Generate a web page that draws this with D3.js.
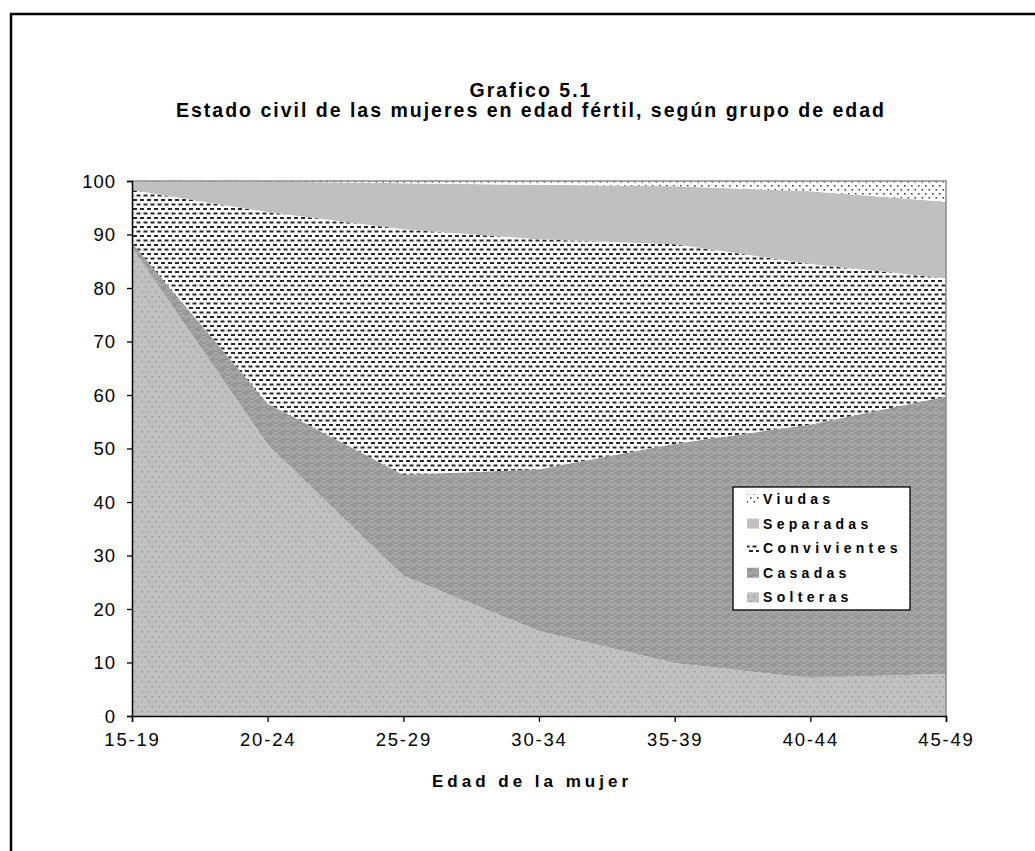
<!DOCTYPE html>
<html><head><meta charset="utf-8">
<script src="https://cdn.jsdelivr.net/npm/d3@7"></script>
<style>
html,body{margin:0;padding:0;background:#fff;}
svg{display:block;font-family:"Liberation Sans",Arial,sans-serif;}
</style></head>
<body><svg id="c" width="1035" height="851"></svg>
<script>
const categories = ["15-19","20-24","25-29","30-34","35-39","40-44","45-49"];
const seriesNames = ["Solteras","Casadas","Convivientes","Separadas","Viudas"];
const solteras     = [87.6, 50.7, 26.2, 15.9,  9.9,  7.1,  7.9];
const casadas      = [ 0.8,  7.7, 18.9, 30.2, 41.0, 47.4, 51.8];
const convivientes = [ 9.9, 35.8, 45.9, 43.0, 37.3, 30.0, 22.1];
const separadas    = [ 1.6,  5.7,  8.6, 10.2, 10.8, 13.6, 14.3];
const viudas       = [ 0.1,  0.1,  0.4,  0.7,  1.0,  1.9,  3.9];
const yTicks = [0,10,20,30,40,50,60,70,80,90,100];
const titleLines = ["Grafico 5.1","Estado civil de las mujeres en edad fértil, según grupo de edad"];
const xTitle = "Edad de la mujer";

const svg = d3.select("#c");
const pLeft = 132, pRight = 946, pTop = 181, pBottom = 716;

// outer frame
svg.append("rect").attr("x",11).attr("y",14).attr("width",1100).attr("height",1000)
  .attr("fill","#fff").attr("stroke","#000").attr("stroke-width",2.5);

// patterns
const defs = svg.append("defs");
let p = defs.append("pattern").attr("id","pSol").attr("patternUnits","userSpaceOnUse").attr("width",7).attr("height",10);
p.append("rect").attr("width",7).attr("height",10).attr("fill","#c0c0c0");
p.append("rect").attr("x",1).attr("y",1).attr("width",1.5).attr("height",1.5).attr("fill","#9a9a9a");
p.append("rect").attr("x",4.5).attr("y",6).attr("width",1.5).attr("height",1.5).attr("fill","#9a9a9a");
p = defs.append("pattern").attr("id","pCas").attr("patternUnits","userSpaceOnUse").attr("width",12).attr("height",8);
p.append("rect").attr("width",12).attr("height",8).attr("fill","#979797");
p.append("path").attr("d","M0,6 L3,3 L6,6 L9,3 L12,6 M0,2 L3,-1 M9,-1 L12,2 M3,7 L6,10").attr("fill","none").attr("stroke","#aeaeae").attr("stroke-width",1.3);
p = defs.append("pattern").attr("id","pCon").attr("patternUnits","userSpaceOnUse").attr("width",7).attr("height",9);
p.append("rect").attr("width",7).attr("height",9).attr("fill","#fff");
p.append("rect").attr("x",0).attr("y",1).attr("width",4).attr("height",2).attr("fill","#262626");
p.append("rect").attr("x",3.5).attr("y",5.5).attr("width",4).attr("height",2).attr("fill","#262626");
p.append("rect").attr("x",-3.5).attr("y",5.5).attr("width",4).attr("height",2).attr("fill","#262626");
p = defs.append("pattern").attr("id","pSep").attr("patternUnits","userSpaceOnUse").attr("width",4).attr("height",4);
p.append("rect").attr("width",4).attr("height",4).attr("fill","#c0c0c0");
p = defs.append("pattern").attr("id","pViu").attr("patternUnits","userSpaceOnUse").attr("width",7).attr("height",8);
p.append("rect").attr("width",7).attr("height",8).attr("fill","#fff");
p.append("rect").attr("x",1).attr("y",1).attr("width",1.6).attr("height",1.6).attr("fill","#444");
p.append("rect").attr("x",4.5).attr("y",5).attr("width",1.6).attr("height",1.6).attr("fill","#444");

const fills = {Solteras:"url(#pSol)",Casadas:"url(#pCas)",Convivientes:"url(#pCon)",Separadas:"url(#pSep)",Viudas:"url(#pViu)"};
const arrays = {Solteras:solteras,Casadas:casadas,Convivientes:convivientes,Separadas:separadas,Viudas:viudas};

const x = d3.scalePoint().domain(categories).range([pLeft,pRight]);
const y = d3.scaleLinear().domain([0,100]).range([pBottom,pTop]);

const table = categories.map((c,i)=>{
  const o = {cat:c};
  seriesNames.forEach(s=>o[s]=arrays[s][i]);
  return o;
});
const stack = d3.stack().keys(seriesNames)(table);
const area = d3.area().x(d=>x(d.data.cat)).y0(d=>y(d[0])).y1(d=>y(Math.min(100,d[1])));

svg.append("g").selectAll("path").data(stack).join("path")
  .attr("d",area).attr("fill",d=>fills[d.key]);

svg.append("path").attr("d",`M${pLeft},${pTop}H${pRight}V${pBottom}`).attr("fill","none").attr("stroke","#8c8c8c").attr("stroke-width",1.5);

const yAxis = d3.axisLeft(y).tickValues(yTicks).tickSize(5).tickPadding(11);
const gy = svg.append("g").attr("transform",`translate(${pLeft},0)`).call(yAxis);
const xAxis = d3.axisBottom(x).tickSize(6).tickPadding(11);
const gx = svg.append("g").attr("transform",`translate(0,${pBottom})`).call(xAxis);
[gy,gx].forEach(g=>{
  g.select(".domain").attr("stroke","#000").attr("stroke-width",1.5);
  g.selectAll(".tick line").attr("stroke","#000").attr("stroke-width",1.3);
  g.selectAll("text").attr("font-family","Liberation Sans, Arial, sans-serif")
   .attr("font-size",18.5).attr("fill","#000");
});
gy.selectAll(".tick text").attr("dy","0.35em").attr("letter-spacing",1);
gx.selectAll(".tick text").attr("letter-spacing",1.8);

svg.append("text").attr("x",531).attr("y",97).attr("text-anchor","middle")
  .attr("font-weight","bold").attr("font-size",19.5).attr("letter-spacing",2).text(titleLines[0]);
svg.append("text").attr("x",531).attr("y",117).attr("text-anchor","middle")
  .attr("font-weight","bold").attr("font-size",19.5).attr("letter-spacing",2).text(titleLines[1]);
svg.append("text").attr("x",532).attr("y",787).attr("text-anchor","middle")
  .attr("font-weight","bold").attr("font-size",17).attr("letter-spacing",4).text(xTitle);

const lg = svg.append("g");
lg.append("rect").attr("x",733).attr("y",487).attr("width",177).attr("height",123)
  .attr("fill","#fff").attr("stroke","#000").attr("stroke-width",1.3);
const legOrder = seriesNames.slice().reverse();
legOrder.forEach((s,i)=>{
  const yy = 504 + i*24.6;
  lg.append("rect").attr("x",747).attr("y",yy-10).attr("width",12).attr("height",10)
    .attr("fill",fills[s]);
  lg.append("text").attr("x",763).attr("y",yy).attr("font-weight","bold").attr("font-size",14)
    .attr("letter-spacing",4.3).text(s);
});
</script></body></html>
